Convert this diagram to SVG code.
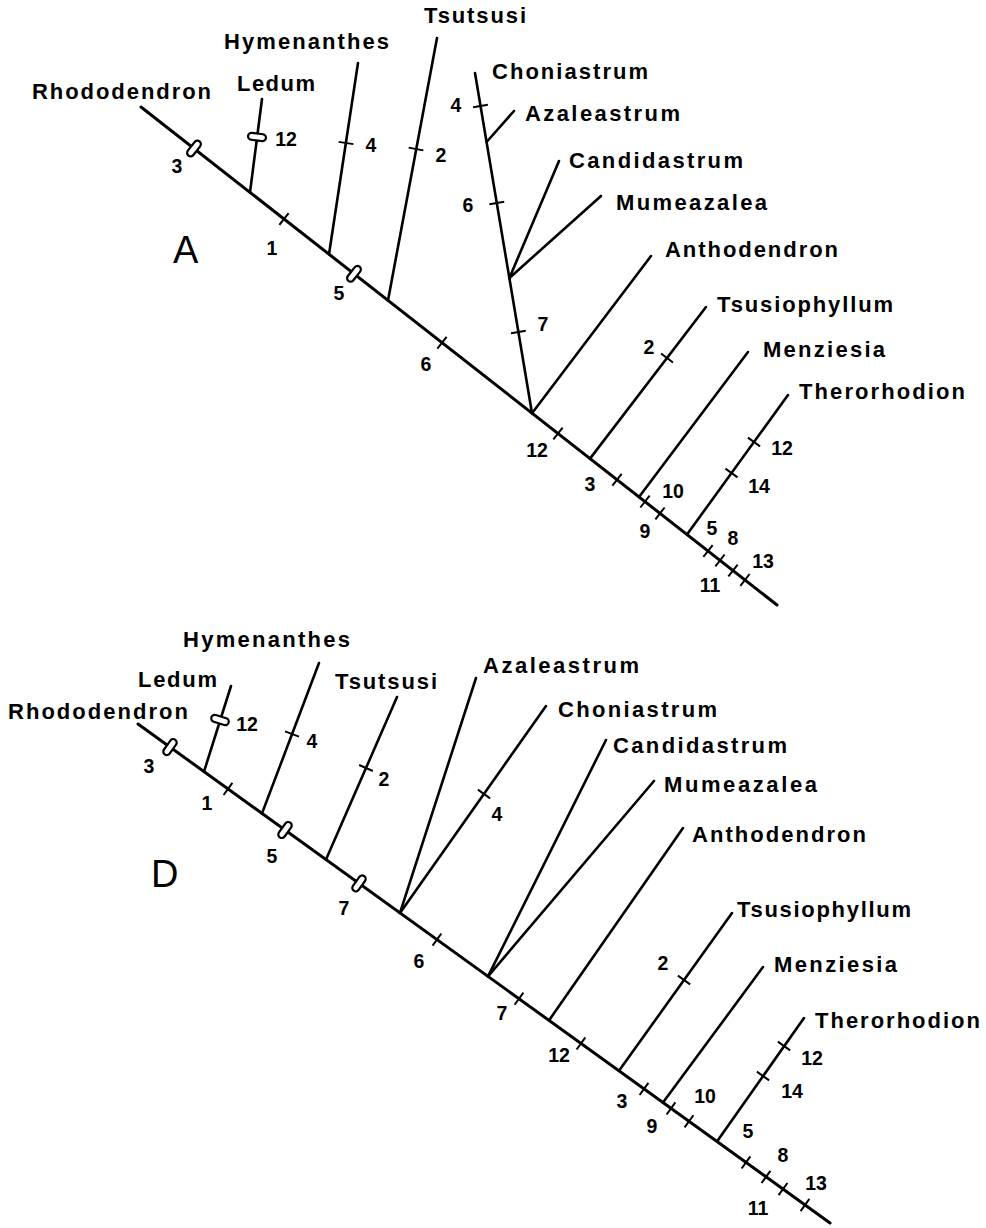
<svg xmlns="http://www.w3.org/2000/svg" width="986" height="1228" viewBox="0 0 986 1228">
<style>
.ln{stroke:#000;stroke-width:2.6;fill:none;stroke-linecap:round}
.mn{stroke:#000;stroke-width:3;fill:none;stroke-linecap:round}
.tk{stroke:#000;stroke-width:2;fill:none}
.db{stroke:#000;stroke-width:2.2;fill:#fff}
.lb{font-family:"Liberation Sans",Arial,sans-serif;font-size:22px;font-weight:bold;fill:#000}
.nm{font-family:"Liberation Sans",Arial,sans-serif;font-size:19.5px;font-weight:bold;fill:#000;text-anchor:middle}
.big{font-family:"Liberation Sans",Arial,sans-serif;font-size:38px;fill:#000}
</style>
<defs>
<path id="t" class="tk" d="M0,-7.5V7.5"/>
<rect id="r" class="db" x="-3.5" y="-9" width="7" height="18" rx="3.5"/>
</defs>
<rect width="986" height="1228" fill="#fff"/>

<!-- Tree A connectors -->
<g id="connectors-A">
<path class="mn" d="M141,107L777,605"/>
<path class="ln" d="M250,192.3L262,99"/>
<path class="ln" d="M329,254.2L358,63"/>
<path class="ln" d="M388,300.4L437,38"/>
<path class="ln" d="M532,413.2L475,73"/>
<path class="ln" d="M486.6,142L514,111"/>
<path class="ln" d="M509.4,278L559,161"/>
<path class="ln" d="M509.4,278L601,196"/>
<path class="ln" d="M532,413.2L651,256"/>
<path class="ln" d="M590,458.6L706,307"/>
<path class="ln" d="M639,497L748,352"/>
<path class="ln" d="M687,534.5L788,395"/>
</g>

<!-- Tree D connectors -->
<g id="connectors-D">
<path class="mn" d="M138,724L830,1223"/>
<path class="ln" d="M204,771.6L231,686"/>
<path class="ln" d="M262,813.4L319,663"/>
<path class="ln" d="M326,859.6L397,697"/>
<path class="ln" d="M400,912.9L476,678"/>
<path class="ln" d="M400,912.9L546,706"/>
<path class="ln" d="M488,976.4L606,740"/>
<path class="ln" d="M488,976.4L654,781"/>
<path class="ln" d="M549,1020.4L683,828"/>
<path class="ln" d="M619,1070.8L732,913"/>
<path class="ln" d="M663,1102.6L763,967"/>
<path class="ln" d="M717,1141.5L804,1018"/>
</g>

<!-- Tree A character marks -->
<g id="marks-A">
<use href="#r" transform="translate(194,148.5) rotate(38.06)"/>
<use href="#t" transform="translate(284,219) rotate(38.06)"/>
<use href="#r" transform="translate(354,273.8) rotate(38.06)"/>
<use href="#t" transform="translate(442,342.7) rotate(38.06)"/>
<use href="#t" transform="translate(558,433.5) rotate(38.06)"/>
<use href="#t" transform="translate(617,479.7) rotate(38.06)"/>
<use href="#t" transform="translate(645,501.6) rotate(38.06)"/>
<use href="#t" transform="translate(660,513.4) rotate(38.06)"/>
<use href="#t" transform="translate(708,551) rotate(38.06)"/>
<use href="#t" transform="translate(720,560.4) rotate(38.06)"/>
<use href="#t" transform="translate(733,570.5) rotate(38.06)"/>
<use href="#t" transform="translate(745,579.9) rotate(38.06)"/>
<use href="#r" transform="translate(257,137) rotate(-82.6)"/>
<use href="#t" transform="translate(346,143) rotate(-81.4)"/>
<use href="#t" transform="translate(416,149) rotate(-79.4)"/>
<use href="#t" transform="translate(480.5,106) rotate(-99.5)"/>
<use href="#t" transform="translate(496.8,203) rotate(-99.5)"/>
<use href="#t" transform="translate(518.4,332) rotate(-99.5)"/>
<use href="#t" transform="translate(667,358) rotate(-52.6)"/>
<use href="#t" transform="translate(754,442) rotate(-54.1)"/>
<use href="#t" transform="translate(731.5,473) rotate(-54.1)"/>
<text class="nm" x="177" y="173">3</text>
<text class="nm" x="286" y="146">12</text>
<text class="nm" x="371" y="152">4</text>
<text class="nm" x="272" y="255">1</text>
<text class="nm" x="339" y="300">5</text>
<text class="nm" x="441" y="162">2</text>
<text class="nm" x="426" y="371">6</text>
<text class="nm" x="456" y="112">4</text>
<text class="nm" x="468" y="212">6</text>
<text class="nm" x="543" y="331">7</text>
<text class="nm" x="537" y="457">12</text>
<text class="nm" x="649" y="354">2</text>
<text class="nm" x="590" y="491">3</text>
<text class="nm" x="673" y="498">10</text>
<text class="nm" x="645" y="538">9</text>
<text class="nm" x="782" y="455">12</text>
<text class="nm" x="759" y="493">14</text>
<text class="nm" x="712" y="535">5</text>
<text class="nm" x="733" y="545">8</text>
<text class="nm" x="763" y="568">13</text>
<text class="nm" x="710" y="592">11</text>
</g>

<!-- Tree D character marks -->
<g id="marks-D">
<use href="#r" transform="translate(170,747.1) rotate(35.8)"/>
<use href="#t" transform="translate(228,788.9) rotate(35.8)"/>
<use href="#r" transform="translate(285,830) rotate(35.8)"/>
<use href="#r" transform="translate(359,883.4) rotate(35.8)"/>
<use href="#t" transform="translate(437,939.6) rotate(35.8)"/>
<use href="#t" transform="translate(519,998.7) rotate(35.8)"/>
<use href="#t" transform="translate(581,1043.4) rotate(35.8)"/>
<use href="#t" transform="translate(644,1088.9) rotate(35.8)"/>
<use href="#t" transform="translate(671,1108.4) rotate(35.8)"/>
<use href="#t" transform="translate(689,1121.3) rotate(35.8)"/>
<use href="#t" transform="translate(746,1162.4) rotate(35.8)"/>
<use href="#t" transform="translate(766,1176.9) rotate(35.8)"/>
<use href="#t" transform="translate(783,1189.1) rotate(35.8)"/>
<use href="#t" transform="translate(805,1205) rotate(35.8)"/>
<use href="#r" transform="translate(220,720) rotate(-72.5)"/>
<use href="#t" transform="translate(292,734) rotate(-69.2)"/>
<use href="#t" transform="translate(366,768) rotate(-66.5)"/>
<use href="#t" transform="translate(484,794) rotate(-54.8)"/>
<use href="#t" transform="translate(684,980) rotate(-54.4)"/>
<use href="#t" transform="translate(784,1046) rotate(-54.7)"/>
<use href="#t" transform="translate(763,1076) rotate(-54.7)"/>
<text class="nm" x="149" y="773">3</text>
<text class="nm" x="247" y="731">12</text>
<text class="nm" x="207" y="810">1</text>
<text class="nm" x="312" y="748">4</text>
<text class="nm" x="272" y="863">5</text>
<text class="nm" x="384" y="786">2</text>
<text class="nm" x="344" y="915">7</text>
<text class="nm" x="497" y="821">4</text>
<text class="nm" x="419" y="968">6</text>
<text class="nm" x="502" y="1020">7</text>
<text class="nm" x="559" y="1062">12</text>
<text class="nm" x="663" y="970">2</text>
<text class="nm" x="622" y="1108">3</text>
<text class="nm" x="652" y="1133">9</text>
<text class="nm" x="705" y="1103">10</text>
<text class="nm" x="812" y="1065">12</text>
<text class="nm" x="792" y="1098">14</text>
<text class="nm" x="748" y="1138">5</text>
<text class="nm" x="783" y="1162">8</text>
<text class="nm" x="816" y="1190">13</text>
<text class="nm" x="758" y="1215">11</text>
</g>

<!-- Tree A nodes -->
<g id="A-title"><text class="big" x="173" y="263">A</text></g>
<g id="A-Rhododendron"><text class="lb" x="32" y="99" textLength="179" lengthAdjust="spacing">Rhododendron</text></g>
<g id="A-Ledum"><text class="lb" x="237" y="91" textLength="78" lengthAdjust="spacing">Ledum</text></g>
<g id="A-Hymenanthes"><text class="lb" x="224" y="49" textLength="165" lengthAdjust="spacing">Hymenanthes</text></g>
<g id="A-Tsutsusi"><text class="lb" x="424" y="23" textLength="102" lengthAdjust="spacing">Tsutsusi</text></g>
<g id="A-Choniastrum"><text class="lb" x="492" y="79" textLength="156" lengthAdjust="spacing">Choniastrum</text></g>
<g id="A-Azaleastrum"><text class="lb" x="525" y="121" textLength="155" lengthAdjust="spacing">Azaleastrum</text></g>
<g id="A-Candidastrum"><text class="lb" x="569" y="168" textLength="174" lengthAdjust="spacing">Candidastrum</text></g>
<g id="A-Mumeazalea"><text class="lb" x="616" y="210" textLength="151" lengthAdjust="spacing">Mumeazalea</text></g>
<g id="A-Anthodendron"><text class="lb" x="665" y="257" textLength="173" lengthAdjust="spacing">Anthodendron</text></g>
<g id="A-Tsusiophyllum"><text class="lb" x="717" y="312" textLength="176" lengthAdjust="spacing">Tsusiophyllum</text></g>
<g id="A-Menziesia"><text class="lb" x="763" y="357" textLength="122" lengthAdjust="spacing">Menziesia</text></g>
<g id="A-Therorhodion"><text class="lb" x="799" y="399" textLength="166" lengthAdjust="spacing">Therorhodion</text></g>

<!-- Tree D nodes -->
<g id="D-title"><text class="big" x="151" y="887">D</text></g>
<g id="D-Rhododendron"><text class="lb" x="8" y="719" textLength="180" lengthAdjust="spacing">Rhododendron</text></g>
<g id="D-Ledum"><text class="lb" x="138" y="687" textLength="79" lengthAdjust="spacing">Ledum</text></g>
<g id="D-Hymenanthes"><text class="lb" x="183" y="647" textLength="167" lengthAdjust="spacing">Hymenanthes</text></g>
<g id="D-Tsutsusi"><text class="lb" x="335" y="689" textLength="102" lengthAdjust="spacing">Tsutsusi</text></g>
<g id="D-Azaleastrum"><text class="lb" x="483" y="673" textLength="156" lengthAdjust="spacing">Azaleastrum</text></g>
<g id="D-Choniastrum"><text class="lb" x="558" y="717" textLength="159" lengthAdjust="spacing">Choniastrum</text></g>
<g id="D-Candidastrum"><text class="lb" x="613" y="753" textLength="174" lengthAdjust="spacing">Candidastrum</text></g>
<g id="D-Mumeazalea"><text class="lb" x="664" y="792" textLength="153" lengthAdjust="spacing">Mumeazalea</text></g>
<g id="D-Anthodendron"><text class="lb" x="692" y="842" textLength="174" lengthAdjust="spacing">Anthodendron</text></g>
<g id="D-Tsusiophyllum"><text class="lb" x="737" y="917" textLength="174" lengthAdjust="spacing">Tsusiophyllum</text></g>
<g id="D-Menziesia"><text class="lb" x="774" y="972" textLength="123" lengthAdjust="spacing">Menziesia</text></g>
<g id="D-Therorhodion"><text class="lb" x="815" y="1028" textLength="165" lengthAdjust="spacing">Therorhodion</text></g>
</svg>
